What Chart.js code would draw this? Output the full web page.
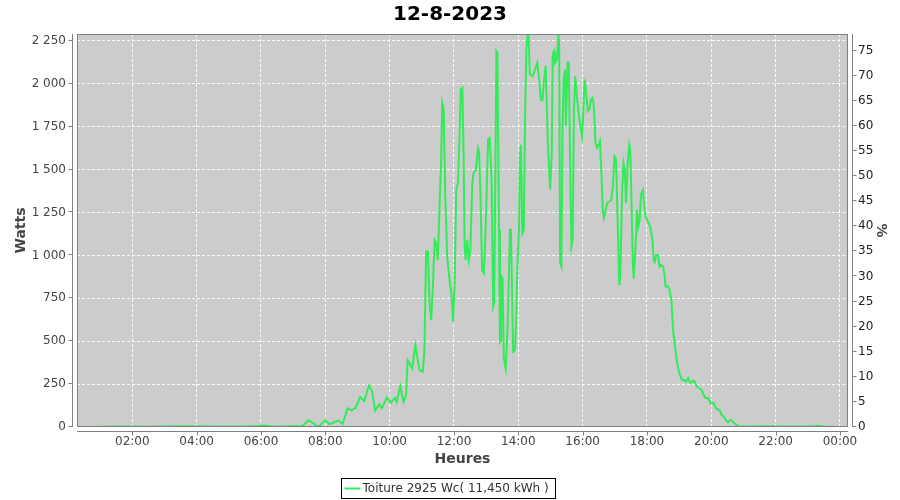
<!DOCTYPE html>
<html>
<head>
<meta charset="utf-8">
<script src="https://cdn.jsdelivr.net/npm/chart.js@4.4.0/dist/chart.umd.min.js"></script>
<style>
  html, body { margin: 0; padding: 0; background: #fff; }
  #wrap { width: 900px; height: 500px; }
</style>
</head>
<body>
<div id="wrap"><canvas id="chart" width="900" height="500"></canvas></div>
<script>
const chartTitle = '12-8-2023';
const seriesLabel = 'Toiture 2925 Wc( 11,450 kWh )';
const peakPower = 2925;   // Wc, the % axis is relative to this
const wattMax = 2290;

// time of day in decimal hours
const hours = [
  0.68, 1.5, 2.5, 3.5, 4.5, 5.5, 5.9, 6.05, 6.3, 6.8, 7.1, 7.28,
  7.47, 7.6, 7.79, 7.99, 8.13, 8.25, 8.41, 8.54, 8.69, 8.82, 8.95, 9.08,
  9.21, 9.36, 9.45, 9.55, 9.68, 9.76, 9.91, 10.04, 10.17, 10.22, 10.33, 10.43,
  10.51, 10.56, 10.62, 10.70, 10.80, 10.875, 10.93, 11.03, 11.08, 11.135, 11.19, 11.24,
  11.29, 11.34, 11.40, 11.45, 11.50, 11.55, 11.60, 11.635, 11.68, 11.73, 11.79, 11.86,
  11.92, 11.97, 12.02, 12.07, 12.125, 12.18, 12.21, 12.26, 12.30, 12.33, 12.36, 12.41,
  12.46, 12.51, 12.57, 12.61, 12.68, 12.75, 12.78, 12.82, 12.875, 12.93, 12.99, 13.06,
  13.11, 13.17, 13.22, 13.25, 13.29, 13.32, 13.35, 13.40, 13.43, 13.46, 13.48, 13.51,
  13.55, 13.61, 13.67, 13.74, 13.77, 13.81, 13.84, 13.90, 13.93, 13.97, 14.02, 14.05,
  14.08, 14.125, 14.17, 14.21, 14.25, 14.29, 14.32, 14.36, 14.45, 14.52, 14.59, 14.65,
  14.70, 14.75, 14.80, 14.85, 14.92, 14.99, 15.04, 15.07, 15.11, 15.14, 15.20, 15.25,
  15.27, 15.30, 15.34, 15.375, 15.41, 15.45, 15.48, 15.53, 15.57, 15.61, 15.65, 15.69,
  15.73, 15.77, 15.82, 15.875, 15.93, 15.98, 16.02, 16.06, 16.10, 16.16, 16.21, 16.26,
  16.31, 16.35, 16.40, 16.45, 16.50, 16.54, 16.58, 16.625, 16.66, 16.71, 16.76, 16.83,
  16.89, 16.94, 16.99, 17.04, 17.09, 17.14, 17.17, 17.23, 17.27, 17.31, 17.35, 17.40,
  17.45, 17.48, 17.52, 17.56, 17.59, 17.65, 17.69, 17.73, 17.77, 17.82, 17.875, 17.93,
  17.96, 18.03, 18.10, 18.17, 18.21, 18.24, 18.29, 18.34, 18.39, 18.45, 18.50, 18.55,
  18.58, 18.65, 18.70, 18.76, 18.81, 18.86, 18.91, 18.96, 19.02, 19.09, 19.17, 19.22,
  19.28, 19.33, 19.38, 19.43, 19.48, 19.55, 19.62, 19.69, 19.76, 19.82, 19.90, 19.95,
  20.00, 20.07, 20.14, 20.21, 20.26, 20.31, 20.38, 20.45, 20.52, 20.60, 20.67, 20.76,
  20.84, 21.2, 21.7, 22.2, 22.7, 23.2, 23.35, 23.5, 23.83
];

const watts = [
  0, 3, 2, 4, 3, 3, 6, 9, 4, 3, 6, 3,
  39, 25, 0, 40, 16, 25, 39, 19, 109, 97, 113, 175,
  152, 243, 210, 97, 132, 109, 171, 142, 171, 146, 239, 146,
  185, 389, 370, 341, 477, 389, 331, 321, 448, 1022, 1022, 720,
  623, 798, 1090, 1071, 973, 1285, 1538, 1889, 1850, 1343, 993, 857,
  779, 613, 837, 1383, 1421, 1733, 1967, 1976, 1577, 1071, 973, 1090,
  973, 1032, 1421, 1480, 1499, 1626, 1606, 1383, 915, 896, 1188, 1675,
  1684, 1441, 701, 720, 1538, 2190, 2181, 1149, 496, 506, 876, 866,
  399, 341, 603, 1149, 1149, 759, 438, 448, 603, 915, 1149, 1577,
  1645, 1129, 1149, 1811, 2200, 2285, 2278, 2054, 2044, 2083, 2122, 2025,
  1908, 1904, 2025, 2103, 1655, 1383, 1597, 2171, 2190, 2122, 2142, 2285,
  2220, 954, 935, 1752, 2025, 2083, 1752, 2122, 2122, 1538, 1051, 1090,
  1850, 2044, 1928, 1830, 1752, 1694, 1830, 2025, 1967, 1840, 1850, 1908,
  1918, 1869, 1655, 1626, 1645, 1665, 1499, 1266, 1217, 1256, 1304, 1314,
  1324, 1402, 1577, 1558, 1188, 827, 876, 1383, 1538, 1499, 1304, 1538,
  1645, 1616, 1304, 954, 866, 1071, 1266, 1168, 1200, 1360, 1380, 1266,
  1225, 1196, 1167, 1089, 973, 963, 1002, 1002, 934, 944, 934, 876,
  818, 818, 802, 740, 566, 488, 411, 353, 304, 275, 271, 265,
  285, 260, 260, 271, 265, 236, 227, 217, 188, 169, 169, 149,
  136, 140, 110, 101, 101, 72, 62, 40, 27, 42, 30, 15,
  5, 3, 4, 3, 3, 4, 7, 3, 2
];

const hourTicks = [2, 4, 6, 8, 10, 12, 14, 16, 18, 20, 22, 24];
const wattTicks = [0, 250, 500, 750, 1000, 1250, 1500, 1750, 2000, 2250];
const pctTicks = [0, 5, 10, 15, 20, 25, 30, 35, 40, 45, 50, 55, 60, 65, 70, 75];

const FONT = 'DejaVu Sans';
const lineColor = '#32eb5a';
const gridColor = 'rgba(255, 255, 255, 0.9)';
const tickColor = '#444444';
const axisColor = '#808080';

const fmtWatts = v => String(v).replace(/\B(?=(\d{3})+(?!\d))/g, ' ');
const setTicks = list => scale => { scale.ticks = list.map(v => ({ value: v })); };

// grey plot background, border, detached axis lines and the boxed legend
const plotDecor = {
    id: 'plotDecor',
    beforeDraw(chart) {
        const { ctx, chartArea: a } = chart;
        ctx.save();
        ctx.fillStyle = '#cccccc';
        ctx.fillRect(a.left, a.top, a.right - a.left, a.bottom - a.top);
        ctx.restore();
    },
    afterDraw(chart) {
        const { ctx, chartArea: a, scales } = chart;
        const gap = 4, tick = 4;
        ctx.save();
        ctx.lineWidth = 1;
        ctx.strokeStyle = axisColor;
        ctx.strokeRect(a.left + 0.5, a.top + 0.5, a.right - a.left - 1, a.bottom - a.top - 1);

        ctx.beginPath();
        const xl = a.left - gap - 0.5;
        ctx.moveTo(xl, a.top); ctx.lineTo(xl, a.bottom);
        scales.y.ticks.forEach(t => {
            const py = Math.round(scales.y.getPixelForValue(t.value)) - 0.5;
            ctx.moveTo(xl - tick, py); ctx.lineTo(xl, py);
        });
        const xr = a.right + gap + 0.5;
        ctx.moveTo(xr, a.top); ctx.lineTo(xr, a.bottom);
        scales.y1.ticks.forEach(t => {
            const py = Math.round(scales.y1.getPixelForValue(t.value)) - 0.5;
            ctx.moveTo(xr, py); ctx.lineTo(xr + tick, py);
        });
        const yb = a.bottom + gap + 0.5;
        ctx.moveTo(a.left, yb); ctx.lineTo(a.right, yb);
        scales.x.ticks.forEach(t => {
            const px = Math.round(scales.x.getPixelForValue(t.value)) + 0.5;
            ctx.moveTo(px, yb); ctx.lineTo(px, yb + tick);
        });
        ctx.stroke();

        // legend
        ctx.font = `12px ${FONT}`;
        const tw = ctx.measureText(seriesLabel).width;
        const boxW = Math.round(tw + 28), boxH = 20;
        const bx = Math.round(449 - boxW / 2) - 0.5, by = 478.5;
        ctx.strokeStyle = '#000';
        ctx.strokeRect(bx, by, boxW, boxH);
        ctx.strokeStyle = lineColor;
        ctx.lineWidth = 2;
        ctx.beginPath();
        ctx.moveTo(bx + 3, by + 10); ctx.lineTo(bx + 19, by + 10);
        ctx.stroke();
        ctx.fillStyle = '#333';
        ctx.textBaseline = 'middle';
        ctx.fillText(seriesLabel, bx + 21, by + 10.5);
        ctx.restore();
    }
};

const ctx = document.getElementById('chart').getContext('2d');

new Chart(ctx, {
    type: 'line',
    data: {
        datasets: [{
            label: seriesLabel,
            data: hours.map((h, i) => ({ x: h, y: watts[i] })),
            borderColor: lineColor,
            borderWidth: 2,
            pointRadius: 0,
            tension: 0,
            fill: false,
            yAxisID: 'y'
        }]
    },
    options: {
        responsive: false,
        animation: false,
        layout: { padding: { top: 3, bottom: 28, left: 0, right: 0 } },
        scales: {
            x: {
                type: 'linear',
                min: 0.28,
                max: 24.25,
                afterBuildTicks: setTicks(hourTicks),
                afterFit: s => { s.height = 45; },
                grid: { color: gridColor, drawTicks: false },
                border: { display: false, dash: [3, 2] },
                ticks: {
                    padding: 8,
                    maxRotation: 0,
                    autoSkip: false,
                    color: tickColor,
                    font: { family: FONT, size: 12 },
                    callback: v => String(v % 24).padStart(2, '0') + ':00'
                },
                title: {
                    display: true,
                    text: 'Heures',
                    color: tickColor,
                    font: { family: FONT, size: 14, weight: 'bold' },
                    padding: { top: 0, bottom: 4 }
                }
            },
            y: {
                position: 'left',
                min: 0,
                max: wattMax,
                afterBuildTicks: setTicks(wattTicks),
                afterFit: s => { s.width = 77; },
                grid: { color: gridColor, drawTicks: false },
                border: { display: false, dash: [3, 2] },
                ticks: {
                    padding: 11,
                    color: tickColor,
                    font: { family: FONT, size: 12 },
                    callback: v => fmtWatts(v)
                },
                title: {
                    display: true,
                    text: 'Watts',
                    color: tickColor,
                    font: { family: FONT, size: 14, weight: 'bold' },
                    padding: { top: 13, bottom: 0 }
                }
            },
            y1: {
                position: 'right',
                min: 0,
                max: wattMax / peakPower * 100,
                afterBuildTicks: setTicks(pctTicks),
                afterFit: s => { s.width = 52; },
                grid: { display: false, drawTicks: false },
                border: { display: false },
                ticks: {
                    padding: 10,
                    color: '#222',
                    font: { family: FONT, size: 12 }
                },
                title: {
                    display: true,
                    text: '%',
                    color: tickColor,
                    font: { family: FONT, size: 14, weight: 'bold' },
                    padding: { top: 11, bottom: 0 }
                }
            }
        },
        plugins: {
            legend: { display: false },
            tooltip: { enabled: false },
            title: {
                display: true,
                text: chartTitle,
                color: '#000',
                font: { family: FONT, size: 20, weight: 'bold' },
                padding: { top: 0, bottom: 7 }
            }
        }
    },
    plugins: [plotDecor]
});
</script>
</body>
</html>
